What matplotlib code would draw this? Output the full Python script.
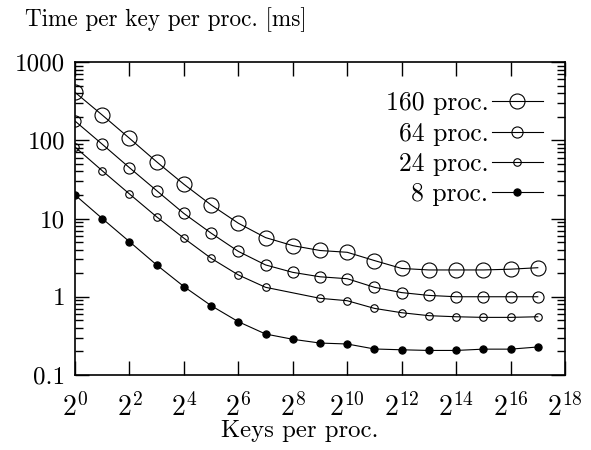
import matplotlib
matplotlib.use('Agg')
import matplotlib.pyplot as plt

plt.rcParams['font.family'] = 'serif'
plt.rcParams['font.serif'] = ['cmr10']
plt.rcParams['mathtext.fontset'] = 'cm'
plt.rcParams['axes.unicode_minus'] = False

# keys per proc. = 2^k
exps = list(range(18))
keys = [2 ** k for k in exps]

t160 = [410, 210, 106, 53, 27.4, 14.9, 8.7, 5.7, 4.5, 3.9, 3.7, 2.9, 2.3, 2.2, 2.2, 2.2, 2.25, 2.35]
t64 = [176, 89, 44.6, 22.7, 11.6, 6.5, 3.8, 2.55, 2.05, 1.8, 1.7, 1.32, 1.13, 1.04, 1.0, 1.0, 1.0, 1.0]
# 24 proc. has no point at 2^8
keys24 = [2 ** k for k in exps if k != 8]
t24 = [82, 40.8, 20.6, 10.5, 5.6, 3.1, 1.9, 1.32, 0.955, 0.89, 0.71, 0.625, 0.573, 0.555, 0.545, 0.545, 0.555]
t8 = [20, 10, 5.06, 2.55, 1.35, 0.77, 0.48, 0.334, 0.286, 0.256, 0.249, 0.215, 0.21, 0.206, 0.206, 0.214, 0.214, 0.228]

yticks = [0.1, 1, 10, 100, 1000]
ylabels = ['0.1', '1', '10', '100', '1000']
xtick_exps = list(range(0, 19, 2))

fs_xtick = 20
fs_ytick = 18
fs_leg = 18.5
fs_lab = 17.8
fs_title = 16.7

fig = plt.figure(figsize=(5.91, 4.5), dpi=100)
ax = fig.add_axes([75 / 591, 75 / 450, 490 / 591, 313 / 450])

lw = 0.8
ax.plot(keys, t160, color='black', lw=lw, marker='o', ms=10.8, mfc='none', mec='black', mew=0.8, label='160 proc.')
ax.plot(keys, t64, color='black', lw=lw, marker='o', ms=8, mfc='none', mec='black', mew=0.8, label='64 proc.')
ax.plot(keys24, t24, color='black', lw=lw, marker='o', ms=5.4, mfc='none', mec='black', mew=0.8, label='24 proc.')
ax.plot(keys, t8, color='black', lw=lw, marker='o', ms=5.2, mfc='black', mec='black', mew=0.8, label='8 proc.')

ax.set_xscale('log', base=2)
ax.set_yscale('log')
ax.set_xlim(1, 2 ** 18)
ax.set_ylim(0.1, 1000)
ax.set_xticks([2 ** k for k in xtick_exps])
ax.set_xticklabels([r'$2^{%d}$' % k for k in xtick_exps])
ax.xaxis.set_minor_locator(matplotlib.ticker.NullLocator())
ax.set_yticks(yticks)
ax.set_yticklabels(ylabels)

ax.tick_params(which='both', direction='in', top=True, right=True, width=1.0)
ax.tick_params(which='major', length=10)
ax.tick_params(which='minor', length=5.5)
ax.tick_params(axis='x', pad=13, labelsize=fs_xtick)
ax.tick_params(axis='y', pad=7, labelsize=fs_ytick)
for s in ax.spines.values():
    s.set_linewidth(1.2)

ax.legend(loc='upper right', bbox_to_anchor=(0.955, 0.905), frameon=False, markerfirst=False,
          fontsize=fs_leg, handlelength=2.0, handletextpad=0.12, labelspacing=0.25,
          borderpad=0, borderaxespad=0)

fig.text(25 / 591, 1 - 26 / 450, 'Time per key per proc. [ms]', fontsize=fs_title, ha='left', va='baseline')
fig.text(300 / 591, 1 - 437 / 450, 'Keys per proc.', fontsize=fs_lab, ha='center', va='baseline')

fig.savefig('out.png', dpi=100)
